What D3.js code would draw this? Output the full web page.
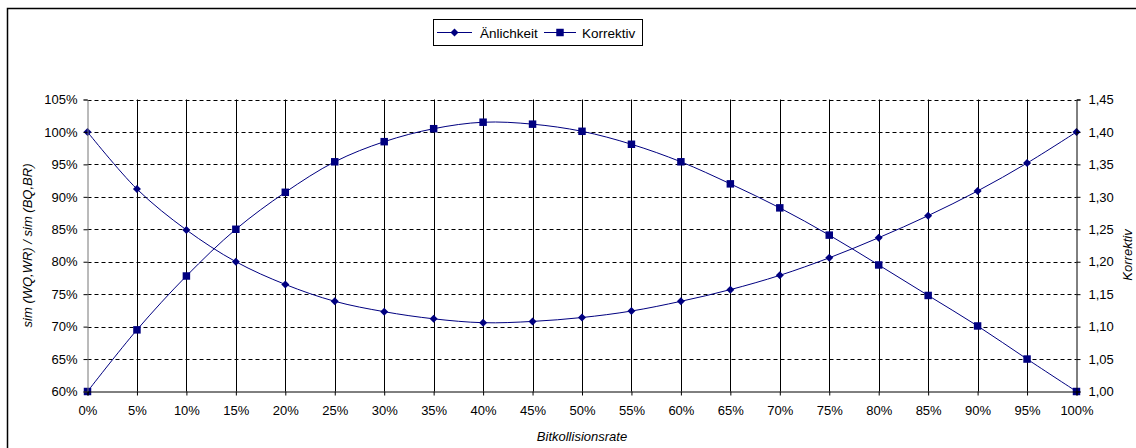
<!DOCTYPE html>
<html>
<head>
<meta charset="utf-8">
<script src="https://cdn.jsdelivr.net/npm/d3@7"></script>
<style>
  html, body { margin: 0; padding: 0; background: #fff; }
  svg { display: block; }
  text { font-family: "Liberation Sans", Arial, sans-serif; fill: #000; }
</style>
</head>
<body>
<svg id="chart" width="1136" height="448"></svg>
<script>
// Bitkollisionsrate in Prozent (x-Achse)
const categories = [0, 5, 10, 15, 20, 25, 30, 35, 40, 45, 50, 55, 60, 65, 70, 75, 80, 85, 90, 95, 100];

// Ähnlichkeit sim(WQ,WR)/sim(BQ,BR) in Prozent (linke Achse)
const aehnlichkeit = [100.0, 91.2, 84.9, 80.0, 76.5, 73.9, 72.3, 71.2, 70.6, 70.8, 71.4, 72.4, 73.9, 75.7, 77.9, 80.6, 83.7, 87.1, 90.9, 95.2, 100.0];

// Korrektivfaktor (rechte Achse)
const korrektiv = [1.000, 1.095, 1.178, 1.250, 1.307, 1.354, 1.385, 1.405, 1.415, 1.412, 1.401, 1.381, 1.354, 1.320, 1.283, 1.241, 1.195, 1.148, 1.101, 1.050, 1.000];

const leftTicks = [60, 65, 70, 75, 80, 85, 90, 95, 100, 105];
const rightTicks = [1.00, 1.05, 1.10, 1.15, 1.20, 1.25, 1.30, 1.35, 1.40, 1.45];

const seriesNames = ["Änlichkeit", "Korrektiv"];
const navy = "#000080";

const svg = d3.select("#chart");

// outer chart frame
svg.append("rect")
  .attr("x", 7.5).attr("y", 8.5)
  .attr("width", 1140).attr("height", 450)
  .attr("fill", "none").attr("stroke", "#000").attr("stroke-width", 1.5);

const plot = { left: 87.5, right: 1076.5, top: 99.5, bottom: 391.5 };

const x = d3.scalePoint().domain(categories).range([plot.left, plot.right]);
const yL = d3.scaleLinear().domain([60, 105]).range([plot.bottom, plot.top]);
const yR = d3.scaleLinear().domain([1.00, 1.45]).range([plot.bottom, plot.top]);

const g = svg.append("g");

// horizontal dashed gridlines
g.append("g").selectAll("line")
  .data(leftTicks.filter(t => t > 60))
  .join("line")
  .attr("x1", plot.left).attr("x2", plot.right)
  .attr("y1", d => Math.round(yL(d)) + 0.5).attr("y2", d => Math.round(yL(d)) + 0.5)
  .attr("stroke", "#000").attr("stroke-width", 1)
  .attr("stroke-dasharray", "4,3");

// vertical gridlines
g.append("g").selectAll("line")
  .data(categories.slice(1, -1))
  .join("line")
  .attr("x1", d => Math.round(x(d)) + 0.5).attr("x2", d => Math.round(x(d)) + 0.5)
  .attr("y1", plot.top).attr("y2", plot.bottom)
  .attr("stroke", "#000").attr("stroke-width", 1);

// axes
const fmtPct = d => d + "%";
const fmtDec = d => d3.format(".2f")(d).replace(".", ",");

const axisLeft = d3.axisLeft(yL).tickValues(leftTicks).tickFormat(fmtPct).tickSize(4).tickPadding(6);
const axisRight = d3.axisRight(yR).tickValues(rightTicks).tickFormat(fmtDec).tickSize(4).tickPadding(8);
const axisBottom = d3.axisBottom(x).tickFormat(fmtPct).tickSize(4).tickPadding(10);

function styleAxis(sel, color) {
  sel.selectAll(".domain").attr("stroke", color).attr("stroke-width", 1);
  sel.selectAll(".tick line").attr("stroke", "#000");
  sel.selectAll("text").attr("font-size", 13).attr("font-family", "Liberation Sans, Arial, sans-serif").attr("fill", "#000");
}

svg.append("g").attr("transform", `translate(${plot.left},0)`).call(axisLeft).call(s => styleAxis(s, "#777"));
svg.append("g").attr("transform", `translate(${plot.right},0)`).call(axisRight).call(s => styleAxis(s, "#000"));
svg.append("g").attr("transform", `translate(0,${plot.bottom})`).call(axisBottom).call(s => styleAxis(s, "#000"));

// axis titles
svg.append("text")
  .attr("transform", `translate(32,${(plot.top + plot.bottom) / 2}) rotate(-90)`)
  .attr("text-anchor", "middle").attr("font-size", 13).attr("font-style", "italic")
  .text("sim (WQ,WR) / sim (BQ,BR)");

svg.append("text")
  .attr("transform", `translate(1132,255) rotate(-90)`)
  .attr("text-anchor", "middle").attr("font-size", 13).attr("font-style", "italic")
  .text("Korrektiv");

svg.append("text")
  .attr("x", (plot.left + plot.right) / 2).attr("y", 441)
  .attr("text-anchor", "middle").attr("font-size", 13).attr("font-style", "italic")
  .text("Bitkollisionsrate");

// series
const curve = d3.curveCatmullRom.alpha(0.5);
const lineL = d3.line().x((d, i) => x(categories[i])).y(d => yL(d)).curve(curve);
const lineR = d3.line().x((d, i) => x(categories[i])).y(d => yR(d)).curve(curve);

const diamond = d3.symbol().type(d3.symbolSquare).size(32);
const square = d3.symbol().type(d3.symbolSquare).size(56);

g.append("path").attr("d", lineL(aehnlichkeit)).attr("fill", "none").attr("stroke", navy).attr("stroke-width", 1);
g.append("path").attr("d", lineR(korrektiv)).attr("fill", "none").attr("stroke", navy).attr("stroke-width", 1);

g.append("g").selectAll("path")
  .data(aehnlichkeit)
  .join("path")
  .attr("d", diamond)
  .attr("transform", (d, i) => `translate(${x(categories[i])},${yL(d)}) rotate(45)`)
  .attr("fill", navy);

g.append("g").selectAll("path")
  .data(korrektiv)
  .join("path")
  .attr("d", square)
  .attr("transform", (d, i) => `translate(${x(categories[i])},${yR(d)})`)
  .attr("fill", navy);

// legend
const legend = svg.append("g");
legend.append("rect")
  .attr("x", 433.5).attr("y", 19.5).attr("width", 209).attr("height", 26)
  .attr("fill", "#fff").attr("stroke", "#000").attr("stroke-width", 1);

const legendItems = [
  { name: seriesNames[0], x0: 437, x1: 472, sym: diamond, rot: 45, tx: 480 },
  { name: seriesNames[1], x0: 544, x1: 576, sym: square, rot: 0, tx: 582 }
];
const ly = 32.5;
legendItems.forEach(it => {
  legend.append("line").attr("x1", it.x0).attr("x2", it.x1).attr("y1", ly).attr("y2", ly)
    .attr("stroke", navy).attr("stroke-width", 1);
  legend.append("path").attr("d", it.sym)
    .attr("transform", `translate(${(it.x0 + it.x1) / 2},${ly}) rotate(${it.rot})`)
    .attr("fill", navy);
  legend.append("text").attr("x", it.tx).attr("y", ly + 5).attr("font-size", 13.5).text(it.name);
});
</script>
</body>
</html>
